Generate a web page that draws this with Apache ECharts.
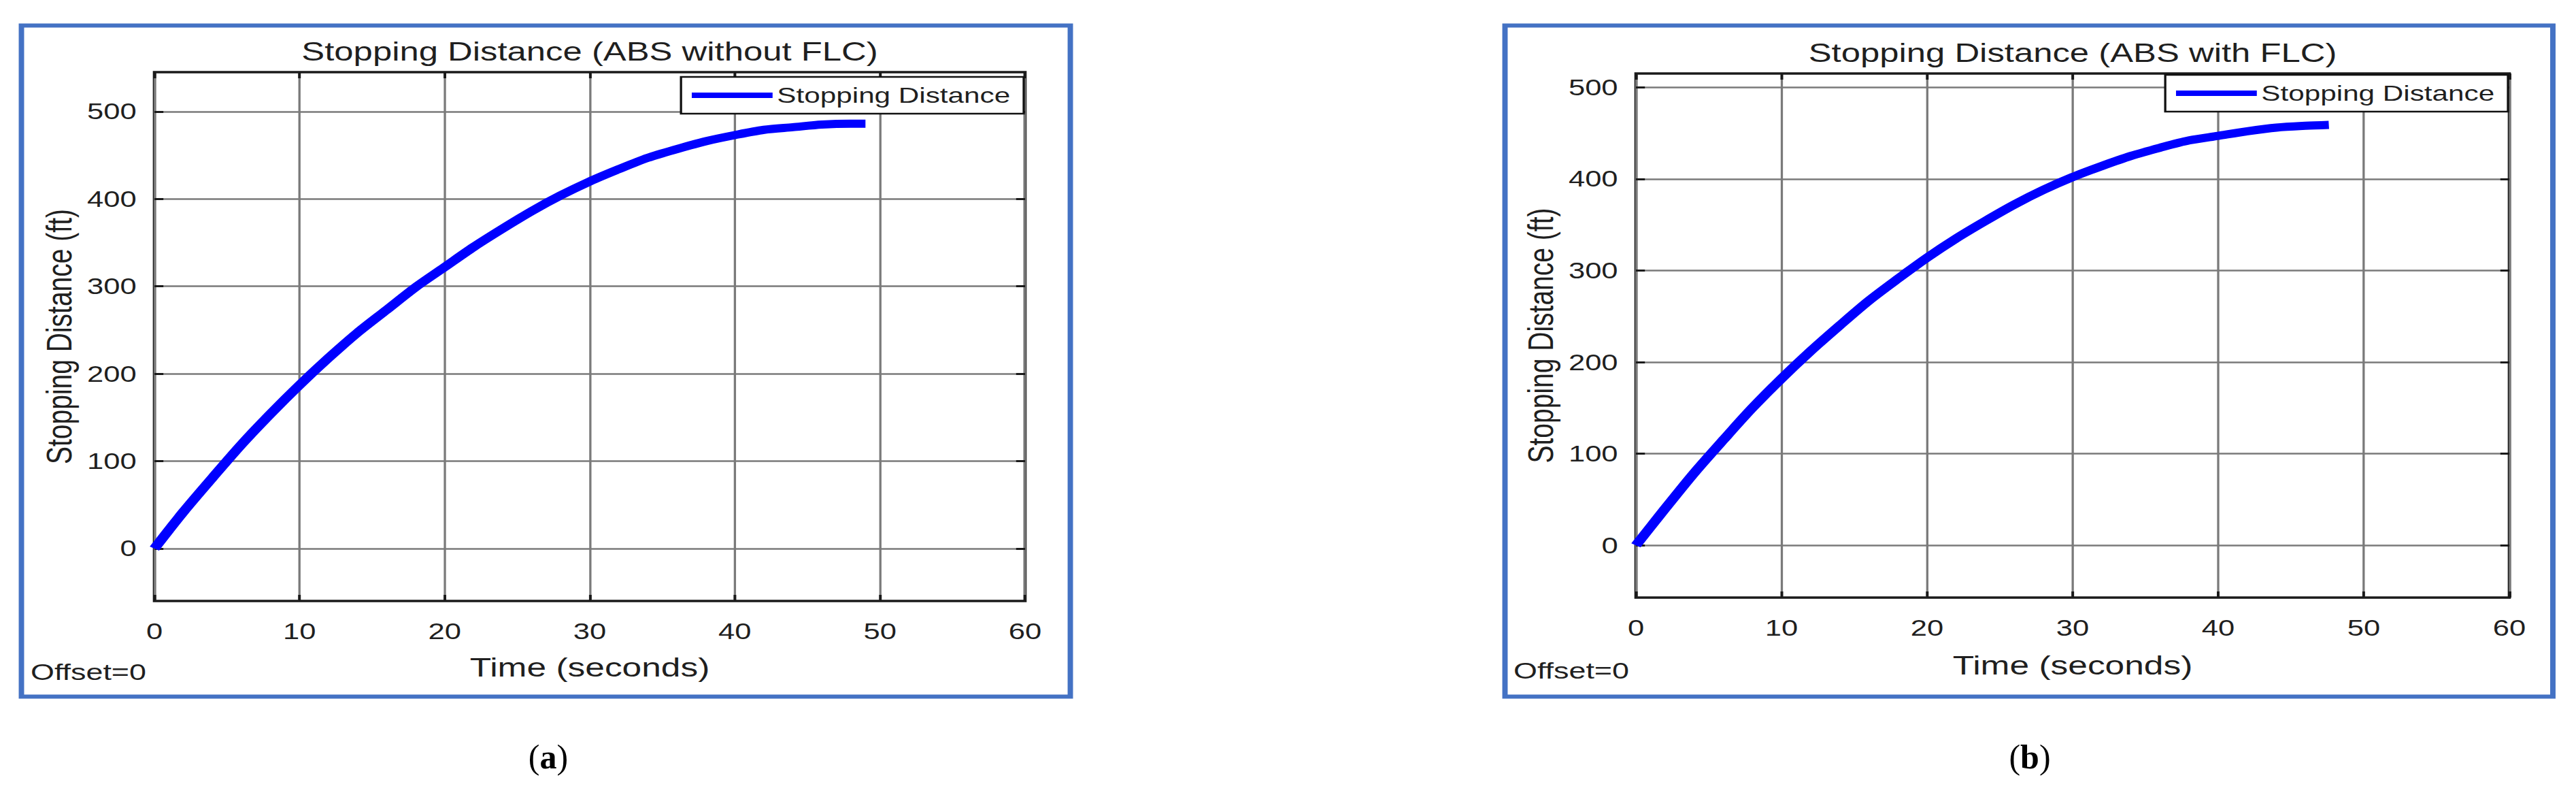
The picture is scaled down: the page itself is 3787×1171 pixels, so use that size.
<!DOCTYPE html>
<html>
<head>
<meta charset="utf-8">
<script src="https://cdn.jsdelivr.net/npm/echarts@6/dist/echarts.min.js"></script>
<style>
    html, body { margin: 0; padding: 0; background: #fff; overflow: hidden; }
    #wrap { width: 3787px; height: 1171px; overflow: hidden; }
    /* the source figure is a stretched MATLAB screenshot, so draw narrow and stretch */
    #chart { width: 2869px; height: 1171px; transform: scaleX(1.31997); transform-origin: 0 0; }
</style>
</head>
<body>
<div id="wrap"><div id="chart"></div></div>
<script>
// (a) ABS without FLC
const timeA = [0, 2, 4, 6, 8, 10, 12, 14, 16, 18, 20, 22, 24, 26, 28, 30, 32, 34, 36, 38, 40, 42, 44, 46, 48, 49];
const distA = [0, 42, 81, 119, 154, 187, 218, 247, 273, 299, 322, 345, 366, 386, 404, 420, 434, 447, 457, 466, 473, 479, 482, 485, 486, 486];
// (b) ABS with FLC
const timeB = [0, 2, 4, 6, 8, 10, 12, 14, 16, 18, 20, 22, 24, 26, 28, 30, 32, 34, 36, 38, 40, 42, 44, 46, 47.6];
const distB = [0, 40, 79, 115, 150, 182, 212, 240, 267, 291, 314, 335, 354, 372, 388, 402, 414, 425, 434, 442, 447, 452, 456, 458, 459];

const yTicks = [0, 100, 200, 300, 400, 500];
const titles = ["Stopping Distance (ABS without FLC)", "Stopping Distance (ABS with FLC)"];
const seriesName = "Stopping Distance";
const xName = "Time (seconds)";
const yName = "Stopping Distance (ft)";
const offsetText = "Offset=0";

const SX = 3787 / 2869;
const W = 2869;
function px(x) { return x / SX; }

const FONT = "'Liberation Sans', Arial, Helvetica, sans-serif";
const TXT = "#1f1f1f";
const GRIDLINE = "#7a7a7a";
const BOX = "#1a1a1a";
const FRAME = "#4472C4";

// panel geometry measured on the picture (stretched pixels)
const panels = [
    { left: 227, right: 1507, top: 106, bottom: 883, yMin: -60, yMax: 545,
      frame: [31.5, 37.5, 1573.5, 1023.5], titleX: 867, titleY: 75.5,
      offX: 45, offY: 987, capX: 806, cap: "a", legRight: 1505, legTop: 113,
      xGap: 78, lblMargin: 28 },
    { left: 2405, right: 3689, top: 108, bottom: 878, yMin: -57, yMax: 515,
      frame: [2212.5, 37.5, 3753, 1023.5], titleX: 3047, titleY: 78,
      offX: 2225, offY: 985.5, capX: 2984, cap: "b", legRight: 3687, legTop: 110,
      xGap: 80, lblMargin: 28 }
];

const chart = echarts.init(document.getElementById("chart"), null, { renderer: "svg" });

const grids = [], xAxes = [], yAxes = [], series = [], legends = [], graphics = [];
const dataSets = [[timeA, distA], [timeB, distB]];

panels.forEach((p, i) => {
    grids.push({
        left: px(p.left), top: p.top,
        width: px(p.right - p.left), height: p.bottom - p.top,
        show: true, backgroundColor: "#fff",
        borderColor: BOX, borderWidth: 3.5
    });
    // bottom axis
    xAxes.push({
        type: "value", gridIndex: i, min: 0, max: 60, interval: 10,
        axisLine: { show: false, onZero: false },
        axisTick: { show: true, inside: true, length: 9, lineStyle: { color: BOX, width: 3 } },
        axisLabel: { margin: p.lblMargin, fontSize: 33, fontFamily: FONT, color: TXT },
        splitLine: { show: true, lineStyle: { color: GRIDLINE, width: 2.5 } },
        name: xName, nameLocation: "middle", nameGap: p.xGap,
        nameTextStyle: { fontSize: 39, fontFamily: FONT, color: TXT }
    });
    // top axis, ticks only
    xAxes.push({
        type: "value", gridIndex: i, position: "top", min: 0, max: 60, interval: 10,
        axisLine: { show: false, onZero: false },
        axisTick: { show: true, inside: true, length: 9, lineStyle: { color: BOX, width: 3 } },
        axisLabel: { show: false }, splitLine: { show: false }
    });
    yAxes.push({
        type: "value", gridIndex: i, min: p.yMin, max: p.yMax,
        axisLine: { show: false, onZero: false },
        axisTick: { show: true, inside: true, length: 10, customValues: yTicks, lineStyle: { color: BOX, width: 3 } },
        axisLabel: { customValues: yTicks, margin: 20, fontSize: 33, fontFamily: FONT, color: TXT },
        splitLine: { show: true, lineStyle: { color: GRIDLINE, width: 2.5 } },
        name: yName, nameLocation: "middle", nameRotate: 90, nameGap: 86,
        nameTextStyle: { fontSize: 39, fontFamily: FONT, color: TXT }
    });
    yAxes.push({
        type: "value", gridIndex: i, position: "right", min: p.yMin, max: p.yMax,
        axisLine: { show: false, onZero: false },
        axisTick: { show: true, inside: true, length: 10, customValues: yTicks, lineStyle: { color: BOX, width: 3 } },
        axisLabel: { show: false }, splitLine: { show: false }
    });

    const [ts, ds] = dataSets[i];
    series.push({
        name: seriesName, type: "line",
        xAxisIndex: i * 2, yAxisIndex: i * 2,
        data: ts.map((t, k) => [t, ds[k]]),
        showSymbol: false, smooth: 0.3,
        color: "#0000ff",
        lineStyle: { color: "#0000ff", width: 12 },
        z: 3
    });

    legends.push({
        data: [seriesName],
        right: W - px(p.legRight), top: p.legTop,
        icon: "rect", itemWidth: 90, itemHeight: 8,
        padding: [11, 15, 11, 12],
        backgroundColor: "#fff", borderColor: "#111", borderWidth: 2.5, borderRadius: 0,
        selectedMode: false,
        textStyle: { fontSize: 32, fontFamily: FONT, color: TXT }
    });

    const f = p.frame;
    graphics.push({
        type: "rect", z: 10,
        shape: { x: px(f[0]), y: f[1], width: px(f[2] - f[0]), height: f[3] - f[1] },
        style: { fill: "none", stroke: FRAME, lineWidth: 6 }
    });
    graphics.push({
        type: "text", z: 10, x: px(p.titleX), y: p.titleY,
        style: { text: titles[i], font: "38.5px " + FONT, fill: TXT, align: "center", verticalAlign: "middle" }
    });
    graphics.push({
        type: "text", z: 10, x: px(p.offX), y: p.offY,
        style: { text: offsetText, font: "34px " + FONT, fill: TXT, align: "left", verticalAlign: "middle" }
    });
    // sub-figure caption sits outside the stretched figure, so undo the stretch
    graphics.push({
        type: "text", z: 10, x: px(p.capX), y: 1112, scaleX: 1 / SX,
        style: {
            text: "({b|" + p.cap + "})",
            font: "50px 'Liberation Serif', 'Times New Roman', serif",
            fill: "#000", align: "center", verticalAlign: "middle",
            rich: { b: { fontWeight: "bold", fontSize: 50, fontFamily: "'Liberation Serif', serif" } }
        }
    });
});

chart.setOption({
    backgroundColor: "#fff",
    animation: false,
    grid: grids,
    xAxis: xAxes,
    yAxis: yAxes,
    legend: legends,
    series: series,
    graphic: graphics
});
</script>
</body>
</html>
